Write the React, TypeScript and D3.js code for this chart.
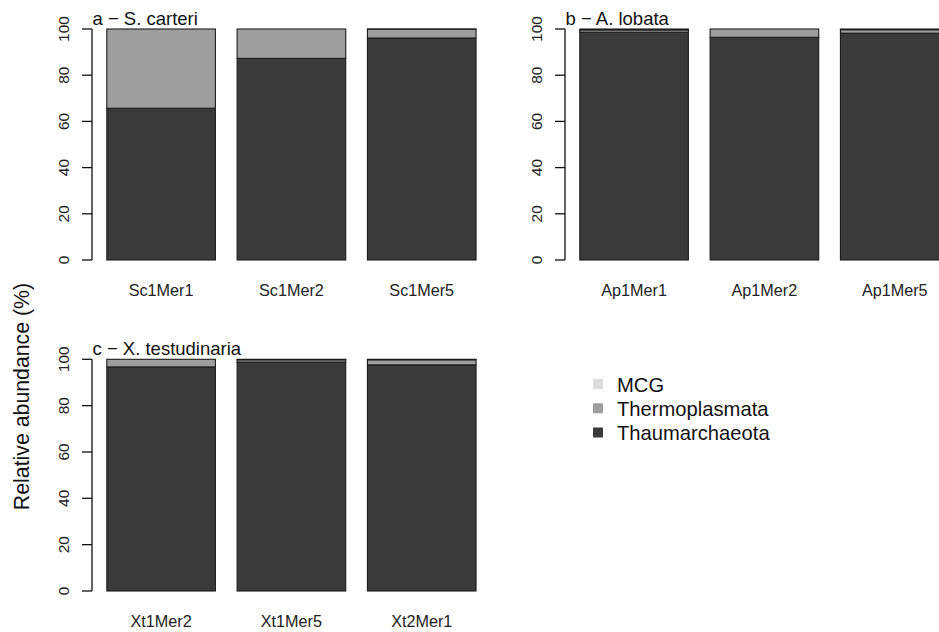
import React from "react";
import * as d3 from "d3";

const W = 939;
const H = 632;

const seriesNames = ["Thaumarchaeota", "Thermoplasmata", "MCG"];
const seriesColors = ["#3a3a3a", "#9e9e9e", "#dcdcdc"];

const panelTitles = ["a \u2212 S. carteri", "b \u2212 A. lobata", "c \u2212 X. testudinaria"];
const samplesA = ["Sc1Mer1", "Sc1Mer2", "Sc1Mer5"];
const samplesB = ["Ap1Mer1", "Ap1Mer2", "Ap1Mer5"];
const samplesC = ["Xt1Mer2", "Xt1Mer5", "Xt2Mer1"];

const thaumA = [65.7, 87.3, 96.1];
const thermoA = [34.3, 12.7, 3.8];
const mcgA = [0, 0, 0.1];

const thaumB = [98.6, 96.4, 98.2];
const thermoB = [1.0, 3.6, 1.5];
const mcgB = [0.4, 0, 0.3];

const thaumC = [96.7, 98.8, 97.6];
const thermoC = [3.3, 1.0, 2.2];
const mcgC = [0, 0.2, 0.2];

const yTicks = [0, 20, 40, 60, 80, 100];

const FONT = "'Liberation Sans', Arial, Helvetica, sans-serif";

type PanelProps = {
  axisX: number;
  yTop: number;
  yBottom: number;
  title: string;
  samples: string[];
  values: number[][];
};

function Panel({ axisX, yTop, yBottom, title, samples, values }: PanelProps) {
  const y = d3.scaleLinear().domain([0, 100]).range([yBottom, yTop]);
  const bw = 108.6;
  const start = axisX + 14.8;
  const inner = 0.2 / 1.2;
  const x = d3
    .scaleBand<string>()
    .domain(samples)
    .range([start, start + 3 * bw + 2 * 0.2 * bw])
    .paddingInner(inner)
    .paddingOuter(0);

  const stackData = samples.map((s, i) => {
    const obj: any = { sample: s };
    seriesNames.forEach((n, k) => (obj[n] = values[k][i]));
    return obj;
  });
  const stack = d3.stack<any>().keys(seriesNames)(stackData);

  return (
    <g>
      {stack.map((layer, k) =>
        layer.map((d, i) => {
          const h = y(d[0]) - y(d[1]);
          if (h <= 0) return null;
          return (
            <rect
              key={`${k}-${i}`}
              x={x(samples[i])}
              y={y(d[1])}
              width={x.bandwidth()}
              height={h}
              fill={seriesColors[k]}
              stroke="#1c1c1c"
              strokeWidth={1.1}
            />
          );
        })
      )}
      <line x1={axisX} x2={axisX} y1={y(0)} y2={y(100)} stroke="#111" strokeWidth={1.3} />
      {yTicks.map((t) => (
        <g key={t}>
          <line x1={axisX - 10} x2={axisX} y1={y(t)} y2={y(t)} stroke="#111" strokeWidth={1.3} />
          <text
            transform={`translate(${axisX - 23},${y(t)}) rotate(-90)`}
            textAnchor="middle"
            fontSize={15.5}
            fontFamily={FONT}
            fill="#222"
          >
            {t}
          </text>
        </g>
      ))}
      {samples.map((s) => (
        <text
          key={s}
          x={(x(s) as number) + x.bandwidth() / 2}
          y={yBottom + 35.5}
          textAnchor="middle"
          fontSize={16.2}
          fontFamily={FONT}
          fill="#222"
        >
          {s}
        </text>
      ))}
      <text x={axisX + 0.5} y={yTop - 4} fontSize={18.5} fontFamily={FONT} fill="#111">
        {title}
      </text>
    </g>
  );
}

export default function App() {
  const legendY = d3.scalePoint<string>().domain(["MCG", "Thermoplasmata", "Thaumarchaeota"]).range([384, 432.5]);
  const legendItems = [
    { name: "MCG", color: seriesColors[2] },
    { name: "Thermoplasmata", color: seriesColors[1] },
    { name: "Thaumarchaeota", color: seriesColors[0] },
  ];
  return (
    <svg
      width={W}
      height={H}
      style={{ position: "absolute", left: 0, top: 0, background: "#fff" }}
    >
      <rect x={0} y={0} width={W} height={H} fill="#fff" />
      <Panel axisX={92} yTop={29} yBottom={260} title={panelTitles[0]} samples={samplesA} values={[thaumA, thermoA, mcgA]} />
      <Panel axisX={565} yTop={29} yBottom={260} title={panelTitles[1]} samples={samplesB} values={[thaumB, thermoB, mcgB]} />
      <Panel axisX={92} yTop={359.3} yBottom={591} title={panelTitles[2]} samples={samplesC} values={[thaumC, thermoC, mcgC]} />
      <text
        transform={`translate(29,396.5) rotate(-90)`}
        textAnchor="middle"
        fontSize={21.3}
        fontFamily={FONT}
        fill="#111"
      >
        Relative abundance (%)
      </text>
      {legendItems.map((it) => (
        <g key={it.name}>
          <rect x={593} y={(legendY(it.name) as number) - 5} width={10} height={10} fill={it.color} />
          <text x={617} y={(legendY(it.name) as number) + 7.5} fontSize={20.2} fontFamily={FONT} fill="#111">
            {it.name}
          </text>
        </g>
      ))}
    </svg>
  );
}
